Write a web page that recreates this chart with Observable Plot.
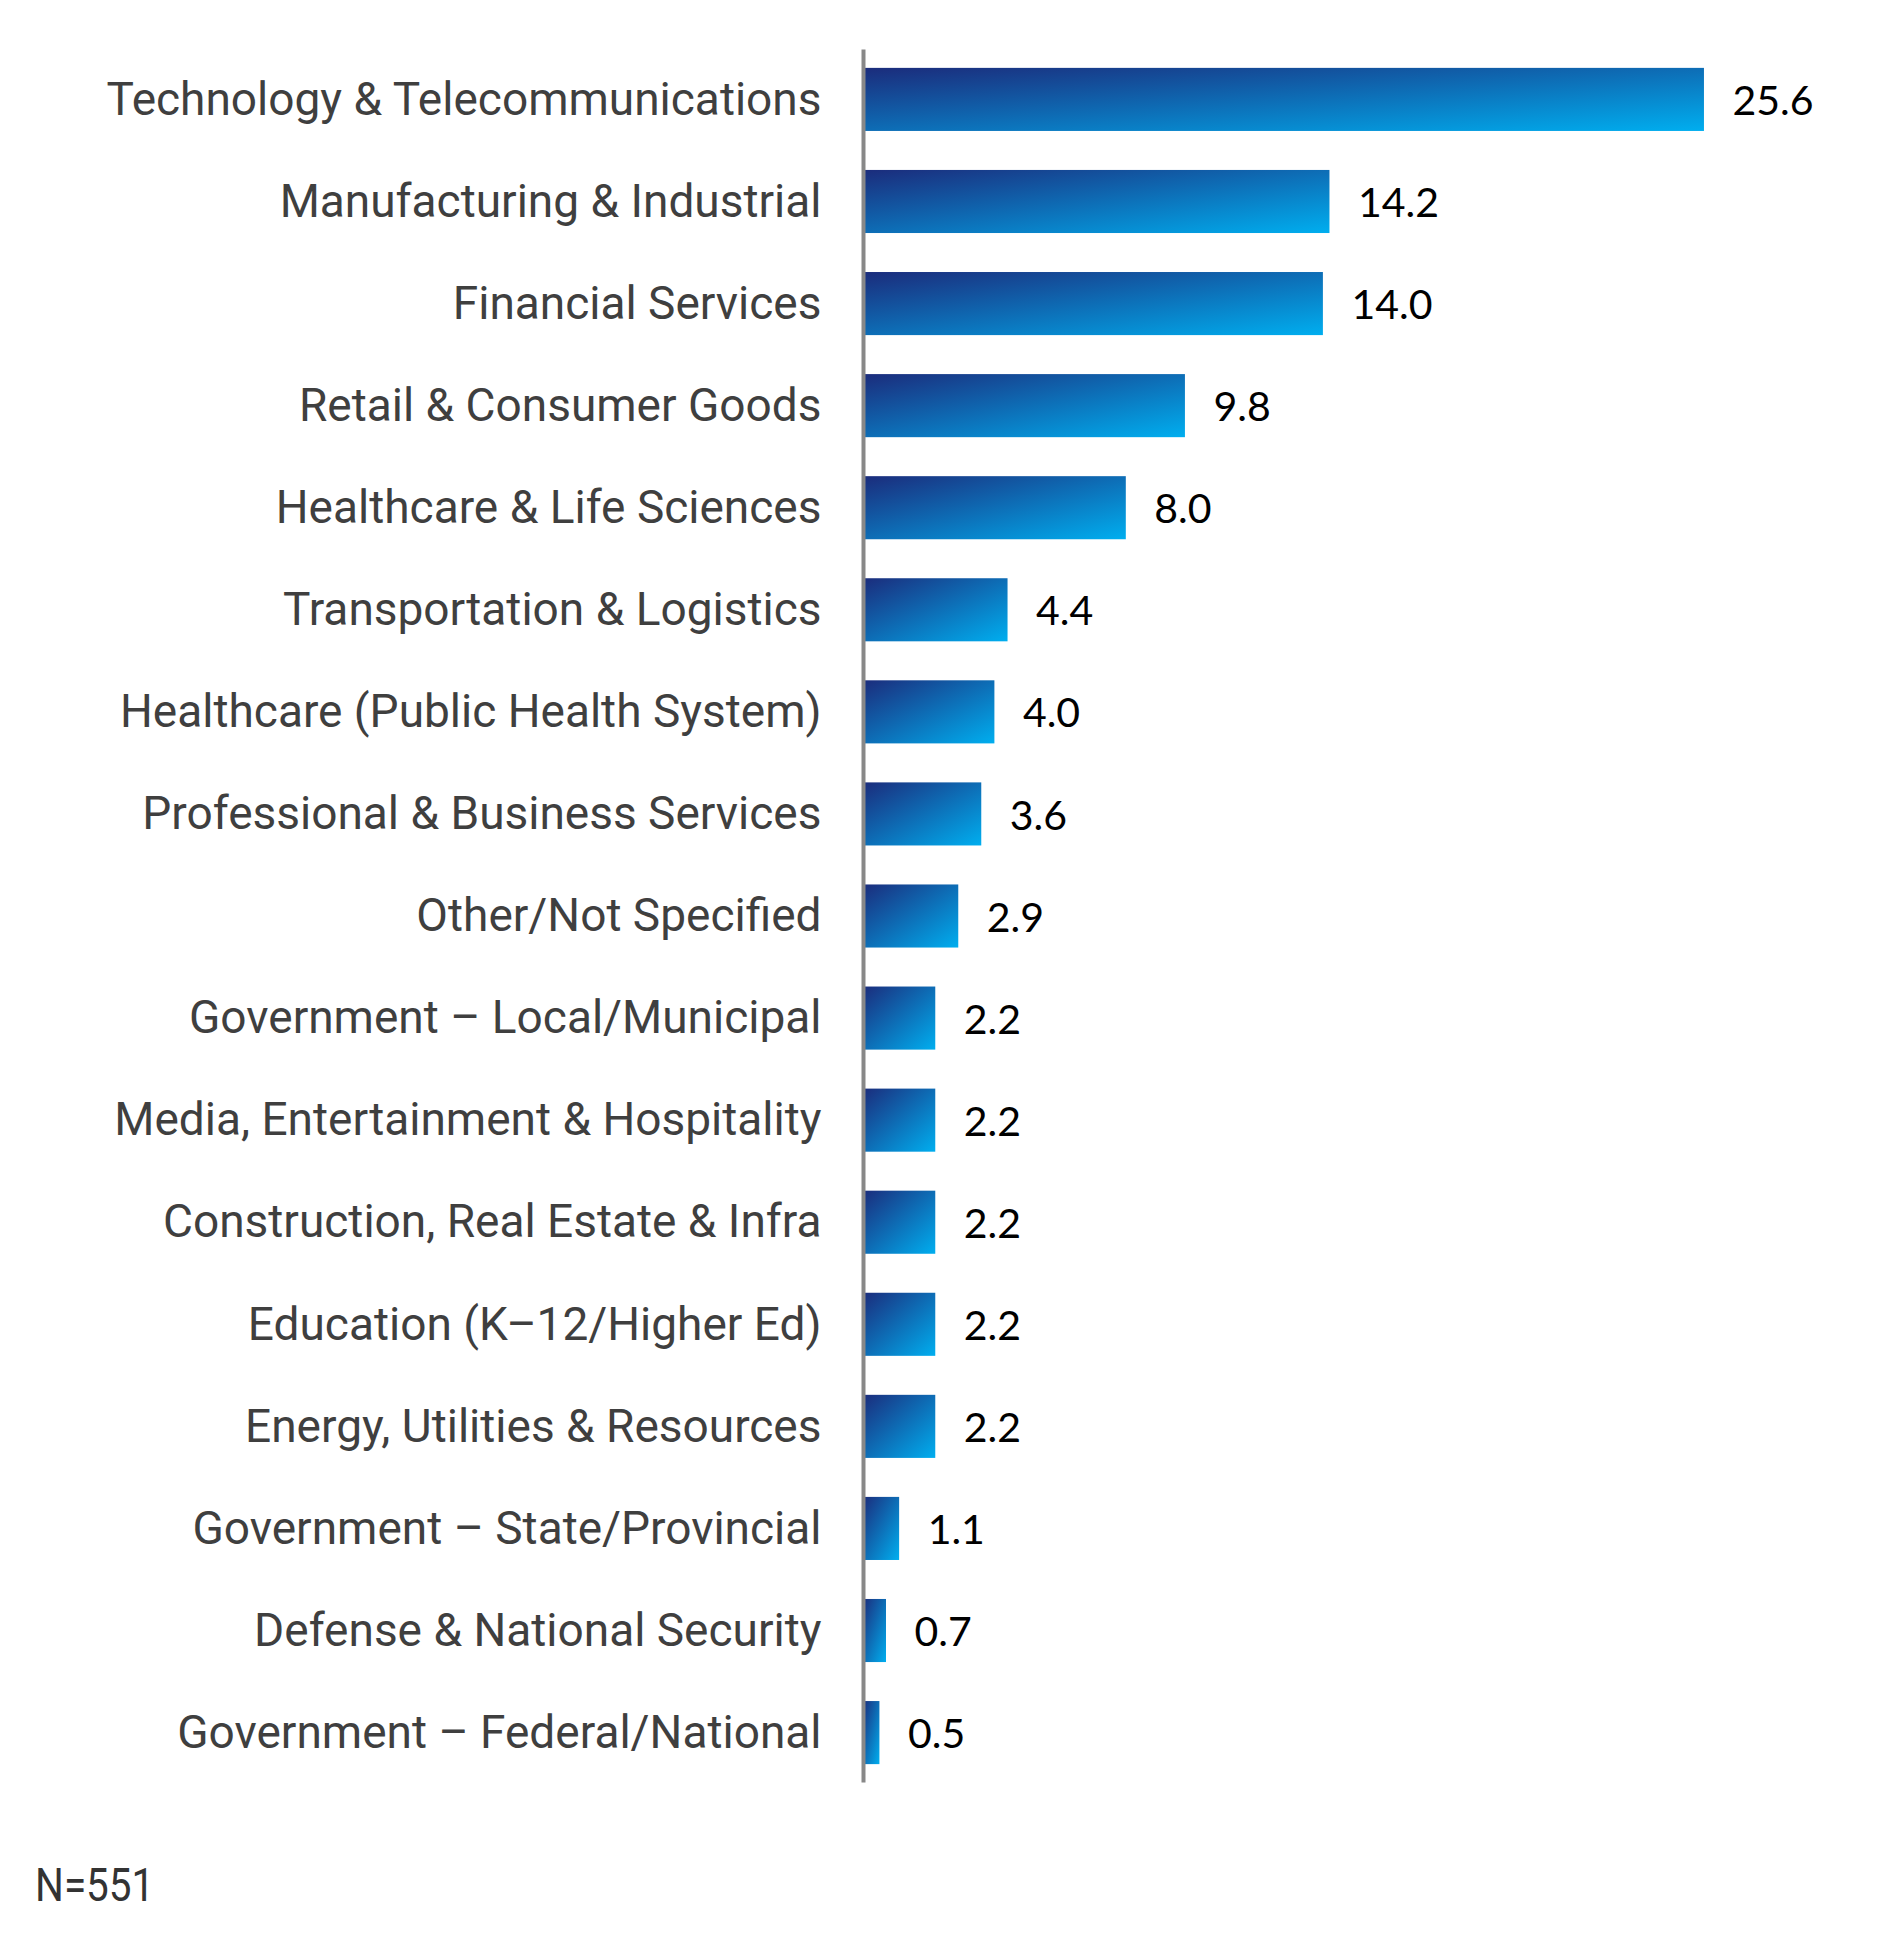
<!DOCTYPE html>
<html><head><meta charset="utf-8">
<script src="https://cdn.jsdelivr.net/npm/d3@7"></script>
<script src="https://cdn.jsdelivr.net/npm/@observablehq/plot@0.6"></script>
<style>
body{margin:0;background:#fff}
#cap{font-family:Roboto;font-size:46px;color:#333;padding-left:35px;padding-top:8px;line-height:54px}
#cap span{display:inline-block;transform-origin:left center;transform:scaleX(0.88)}
</style>
</head><body><div id="chart"></div><div id="cap"><span>N=551</span></div>
<script>
const categories = [
  "Technology & Telecommunications",
  "Manufacturing & Industrial",
  "Financial Services",
  "Retail & Consumer Goods",
  "Healthcare & Life Sciences",
  "Transportation & Logistics",
  "Healthcare (Public Health System)",
  "Professional & Business Services",
  "Other/Not Specified",
  "Government – Local/Municipal",
  "Media, Entertainment & Hospitality",
  "Construction, Real Estate & Infra",
  "Education (K–12/Higher Ed)",
  "Energy, Utilities & Resources",
  "Government – State/Provincial",
  "Defense & National Security",
  "Government – Federal/National"
];
const values = [25.6, 14.2, 14.0, 9.8, 8.0, 4.4, 4.0, 3.6, 2.9, 2.2, 2.2, 2.2, 2.2, 2.2, 1.1, 0.7, 0.5];
const data = categories.map((c, i) => ({category: c, value: values[i]}));

const gradient = () => {
  const defs = d3.create("svg:defs");
  const g = defs.append("linearGradient").attr("id", "barGrad")
    .attr("x1", 0).attr("y1", 0).attr("x2", 1).attr("y2", 1);
  g.append("stop").attr("offset", "0%").attr("stop-color", "#1b2c7c");
  g.append("stop").attr("offset", "100%").attr("stop-color", "#00aeef");
  return defs.node();
};

const chart = Plot.plot({
  width: 1898, height: 1850,
  marginLeft: 863, marginRight: 49.5, marginTop: 49.5, marginBottom: 67.5,
  x: {domain: [0, 30], axis: null},
  y: {domain: categories, paddingInner: 0.382, paddingOuter: 0.18, round: false, label: null},
  style: {background: "#fff", fontFamily: "Roboto"},
  marks: [
    gradient,
    Plot.barX(data, {x: "value", y: "category", fill: "url(#barGrad)"}),
    Plot.ruleX([0], {stroke: "#888", strokeWidth: 4}),
    Plot.axisY({tickSize: 0, tickPadding: 42, fontSize: 46, fill: "#3f3f3f", label: null}),
    Plot.text(data, {x: "value", y: "category", text: d => d.value.toFixed(1), dx: 28, dy: 2, textAnchor: "start", fontSize: 41, fontFamily: "Lato", fill: "#000"})
  ]
});
document.getElementById("chart").appendChild(chart);
</script>
</body></html>
